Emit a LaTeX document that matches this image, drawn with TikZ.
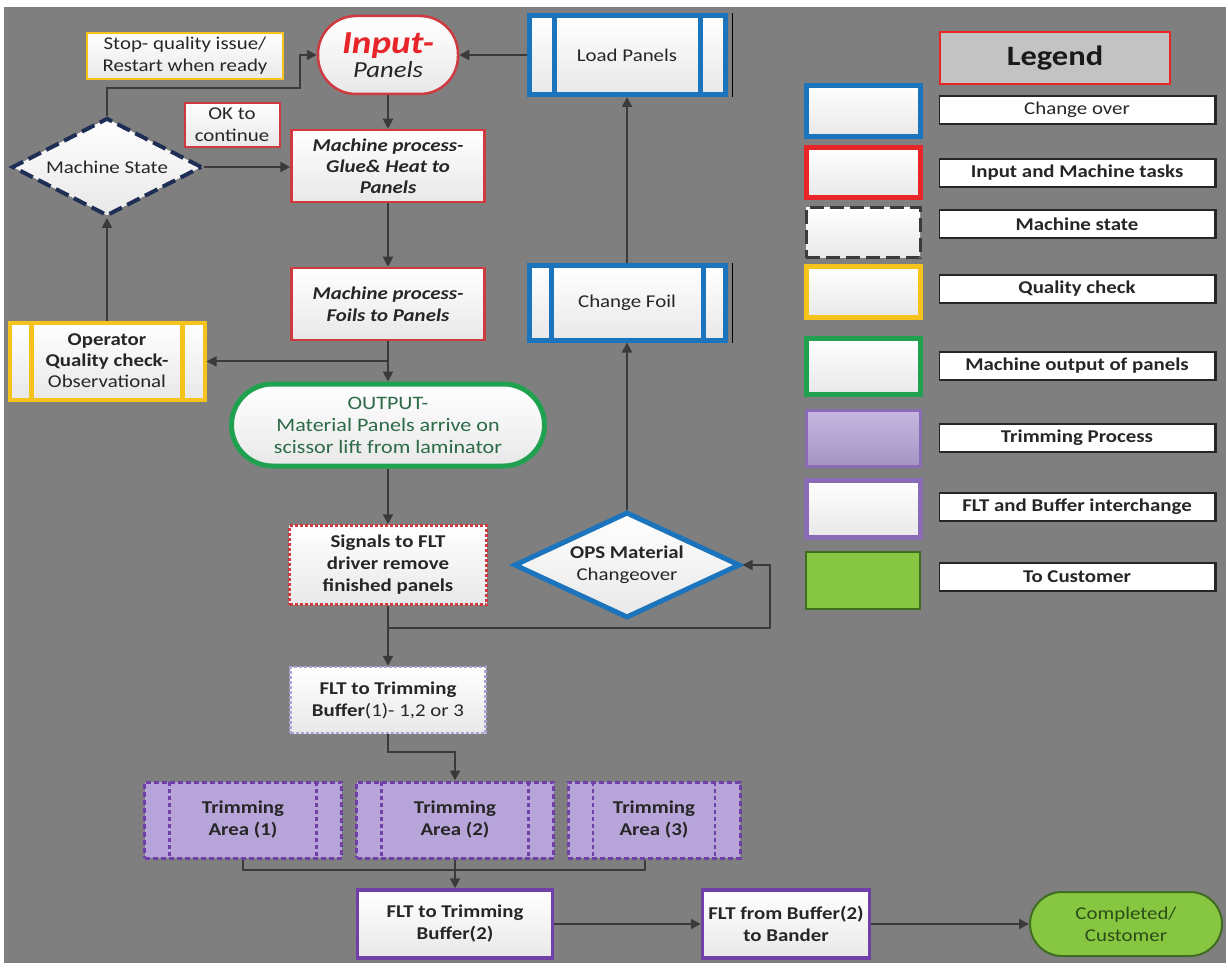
\documentclass[tikz,border=0pt]{standalone}
\usepackage{fontspec}
\setmainfont{Carlito}[FakeStretch=1.16]
\usetikzlibrary{shapes.geometric,arrows.meta,calc}

\definecolor{bggray}{HTML}{7F7F7F}
\definecolor{txt}{HTML}{262626}
\definecolor{cblue}{HTML}{1C74BC}
\definecolor{cred}{HTML}{CF3A40}
\definecolor{lred}{HTML}{E8262A}
\definecolor{cyel}{HTML}{F6C21C}
\definecolor{cnavy}{HTML}{1F2E55}
\definecolor{cgreen}{HTML}{1FA150}
\definecolor{gtext}{HTML}{2D6A48}
\definecolor{cpurple}{HTML}{7040A8}
\definecolor{lpurple}{HTML}{B7A5D9}
\definecolor{dpurple}{HTML}{8A6BB5}
\definecolor{dotpurple}{HTML}{B0A2D6}
\definecolor{lgreen}{HTML}{86C640}
\definecolor{dgreen}{HTML}{3F6E22}
\definecolor{linegray}{HTML}{3A3A3A}
\definecolor{lgbox}{HTML}{C3C3C3}

\tikzset{
  base/.style={font=\fontsize{18}{22}\selectfont, text=txt, align=center,
    inner sep=2pt, top color=white, bottom color=black!9},
  boxr/.style={base, rectangle, draw=cred, line width=2.5pt,
    minimum width=193pt, minimum height=72pt},
  subbox/.style 2 args={base, rectangle, draw=#1, line width=5pt,
    path picture={\draw[#1, line width=5pt]
      ([xshift=#2]path picture bounding box.north west) --
      ([xshift=#2]path picture bounding box.south west)
      ([xshift=-#2]path picture bounding box.north east) --
      ([xshift=-#2]path picture bounding box.south east);}},
  trim/.style={font=\fontsize{18}{22}\selectfont\bfseries, text=txt,
    align=center, rectangle, fill=lpurple, draw=cpurple, line width=3pt,
    dash pattern=on 5pt off 3pt, minimum height=76pt,
    path picture={\draw[cpurple, line width=2.5pt, dash pattern=on 4pt off 3pt]
      ([xshift=25pt]path picture bounding box.north west) --
      ([xshift=25pt]path picture bounding box.south west)
      ([xshift=-25pt]path picture bounding box.north east) --
      ([xshift=-25pt]path picture bounding box.south east);}},
  diam/.style={base, diamond, shape aspect=2, inner sep=0pt},
  swatch/.style={rectangle, minimum width=114pt, top color=white,
    bottom color=black!9, line width=5pt},
  lbl/.style={rectangle, fill=white, draw=black!85, line width=1.2pt,
    minimum width=275pt, minimum height=28pt, inner sep=1pt, text=txt,
    font=\fontsize{18}{20}\selectfont\bfseries},
  link/.style={draw=linegray, line width=2pt,
    -{Triangle[length=10pt,width=10pt]}},
  plain/.style={draw=linegray, line width=2pt},
}

\begin{document}
\begin{tikzpicture}[x=1pt,y=-1pt]
% canvas
\fill[white] (0,0) rectangle (1228,968);
\fill[bggray] (4,7) rectangle (1226,963);
\useasboundingbox (0,0) rectangle (1228,968);

% ---------- main flow ----------
\node[base, draw=cred, line width=2.5pt, rounded corners=38pt,
      minimum width=140pt, minimum height=78pt, inner sep=0pt] (inp) at (388,55)
  {{\fontsize{32}{30}\selectfont\bfseries\itshape\color{lred}Input-}\\[2pt]
   {\fontsize{23}{24}\selectfont\itshape Panels}};

\node[subbox={cblue}{25pt}, minimum width=196pt, minimum height=79pt] (load)
  at (627,55) {Load Panels};
\draw[black, line width=1.2pt] ([xshift=5pt]load.north east) -- ([xshift=5pt]load.south east);

\node[base, rectangle, draw=cyel, line width=2.5pt, minimum width=196pt,
      minimum height=46pt] (stop) at (185,56)
  {Stop- quality issue/\\Restart when ready};

\node[base, rectangle, draw=cred, line width=2pt, minimum width=95pt,
      minimum height=44pt] (ok) at (232,125) {OK to\\continue};

\node[diam, draw=cnavy, line width=4pt, dash pattern=on 14pt off 6pt,
      minimum width=190pt, minimum height=98pt] (mstate) at (107,167)
  {Machine State};

\node[boxr, font=\fontsize{18}{21}\selectfont\bfseries\itshape] (glue) at (388,166)
  {Machine process-\\Glue\& Heat to\\Panels};

\node[boxr, font=\fontsize{18}{22}\selectfont\bfseries\itshape] (foil) at (388,304)
  {Machine process-\\Foils to Panels};

\node[subbox={cyel}{22pt}, line width=4pt, minimum width=195pt,
      minimum height=77pt, font=\fontsize{18}{21}\selectfont] (oper) at (107,361)
  {\textbf{Operator}\\\textbf{Quality check-}\\Observational};

\node[base, draw=cgreen, line width=5pt, rounded corners=41pt, text=gtext,
      minimum width=313pt, minimum height=82pt, inner sep=0pt,
      font=\fontsize{19}{22}\selectfont] (out) at (388,425)
  {OUTPUT-\\Material Panels arrive on\\scissor lift from laminator};

\node[base, rectangle, draw=cred, line width=2.5pt, dash pattern=on 3pt off 2pt,
      minimum width=197pt, minimum height=79pt,
      font=\fontsize{18}{22}\selectfont\bfseries] (sig) at (388,565)
  {Signals to FLT\\driver remove\\finished panels};

\node[diam, draw=cblue, line width=5pt, minimum width=226pt,
      minimum height=106pt, font=\fontsize{18}{22}\selectfont] (ops) at (627,565)
  {\textbf{OPS Material}\\Changeover};

\node[subbox={cblue}{22pt}, minimum width=196pt, minimum height=74pt] (chfoil)
  at (627,303) {Change Foil};
\draw[black, line width=1.2pt] ([xshift=5pt]chfoil.north east) -- ([xshift=5pt]chfoil.south east);

\node[base, rectangle, draw=dotpurple, line width=2.5pt,
      dash pattern=on 3pt off 2pt, minimum width=195pt, minimum height=66pt]
  (flt1) at (388,700)
  {\textbf{FLT to Trimming}\\\textbf{Buffer}(1)- 1,2 or 3};

\node[trim, minimum width=197pt] (trim1) at (243,820) {Trimming\\Area (1)};
\node[trim, minimum width=197pt] (trim2) at (455,820) {Trimming\\Area (2)};
\node[trim, minimum width=172pt] (trim3) at (654,820) {Trimming\\Area (3)};

\node[base, rectangle, draw=cpurple, line width=3.5pt, minimum width=195pt,
      minimum height=68pt, font=\fontsize{18}{22}\selectfont\bfseries]
  (flt2) at (455,924) {FLT to Trimming\\Buffer(2)};

\node[base, rectangle, draw=cpurple, line width=3.5pt, minimum width=167pt,
      minimum height=68pt, font=\fontsize{18}{22}\selectfont\bfseries]
  (flt3) at (786,924) {FLT from Buffer(2)\\to Bander};

\node[rectangle, rounded corners=32pt, fill=lgreen, draw=dgreen, line width=2pt,
      minimum width=192pt, minimum height=64pt, align=center, text=dgreen!70!black,
      font=\fontsize{18}{22}\selectfont] (comp) at (1126,924)
  {Completed/\\Customer};

% ---------- connectors ----------
\draw[link] (inp.south) -- (glue.north);
\draw[link] (load.west) -- (inp.east);
\draw[link] (glue.south) -- (foil.north);
\draw[link] (foil.south) -- (out.north);
\coordinate (qsplit) at ($(foil.south)!0.5!(out.north)$);
\draw[link] (qsplit) -- (qsplit -| oper.east);
\draw[link] (oper.north) -- (mstate.south);
\coordinate (k1) at (300,88);
\draw[link] (mstate.north) |- (k1) |- (inp.west);
\draw[link] (mstate.east) -- (mstate.east -| glue.west);
\draw[link] (out.south) -- (sig.north);
\draw[link] (sig.south) -- (flt1.north);
\coordinate (k2) at (770,628);
\draw[link] (sig.south |- k2) -- (k2) |- (ops.east);
\draw[link] (ops.north) -- (chfoil.south);
\draw[link] (chfoil.north) -- (load.south);
\coordinate (k3) at (455,752);
\draw[link] (flt1.south) |- (k3) -- (trim2.north);
\coordinate (k4) at (455,870);
\draw[plain] (trim1.south) |- (k4);
\draw[plain] ([xshift=-9pt]trim3.south) |- (k4);
\draw[link] (trim2.south) -- (flt2.north);
\draw[link] (flt2.east) -- (flt3.west);
\draw[link] (flt3.east) -- (comp.west);

% ---------- legend ----------
\node[rectangle, fill=lgbox, draw=lred, line width=2.5pt, minimum width=230pt,
      minimum height=52pt, font=\fontsize{28}{30}\selectfont\bfseries, text=black!90]
  (legend) at (1055,58) {Legend};

\node[swatch, draw=cblue, minimum height=51pt] (sw1) at (863,111) {};
\node[swatch, draw=lred, minimum height=50pt] (sw2) at (863,173) {};
\node[swatch, draw=linegray, line width=3pt, dash pattern=on 14pt off 6pt,
      minimum height=50pt] (sw3) at (863,233) {};
\node[swatch, draw=cyel, minimum height=51pt] (sw4) at (863,292) {};
\node[swatch, draw=cgreen, minimum height=56pt] (sw5) at (863,366) {};
\node[swatch, top color=lpurple!80!white, bottom color=lpurple!90!black,
      draw=dpurple, line width=3pt, minimum height=56pt] (sw6) at (863,438) {};
\node[swatch, draw=dpurple, minimum height=57pt] (sw7) at (863,509) {};
\node[swatch, top color=lgreen, bottom color=lgreen,
      draw=dgreen, line width=2pt, minimum height=57pt] (sw8) at (863,580) {};

\node[lbl, font=\fontsize{18}{20}\selectfont] (lb1) at (1077,110) {Change over};
\node[lbl] (lb2) at (1077,173) {Input and Machine tasks};
\node[lbl] (lb3) at (1077,224) {Machine state};
\node[lbl] (lb4) at (1077,289) {Quality check};
\node[lbl] (lb5) at (1077,366) {Machine output of panels};
\node[lbl] (lb6) at (1077,438) {Trimming Process};
\node[lbl] (lb7) at (1077,507) {FLT and Buffer interchange};
\node[lbl] (lb8) at (1077,577) {To Customer};
\foreach \n in {lb1,lb2,lb3,lb4,lb5,lb6,lb7,lb8}
  \draw[black!85, line width=3pt] (\n.north east) -- (\n.south east);
\end{tikzpicture}
\end{document}
